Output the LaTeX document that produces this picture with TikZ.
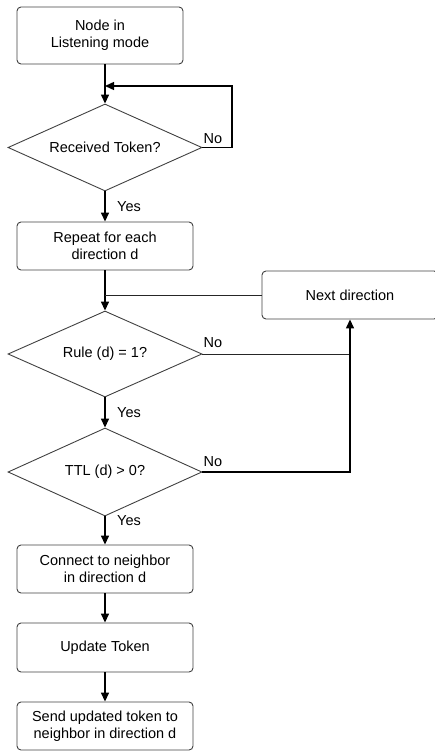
\documentclass[tikz,border=0pt]{standalone}
\usepackage{fontspec}
\setmainfont{Liberation Sans}
\usetikzlibrary{shapes.geometric,arrows.meta}
\begin{document}
\begin{tikzpicture}[x=1pt,y=1pt,
  font=\fontsize{14.5}{17}\selectfont,
  box/.style={draw=black!75, line width=0.9pt, rounded corners=4pt, align=center, inner sep=0pt},
  dec/.style={draw=black!75, line width=0.9pt, shape=diamond, shape aspect=2.2, inner sep=0pt, minimum width=194pt, align=center},
  conn/.style={line width=1.4pt, black},
  thinconn/.style={line width=1pt, black!85},
  arr/.style={conn, -{Triangle[length=9pt,width=8pt]}},
  lbl/.style={inner sep=0pt}]
\useasboundingbox (0,0) rectangle (435,-751);

\node[box, minimum width=166pt, minimum height=57pt] (start) at (100,-35.5) {Node in\\Listening mode};
\node[dec, minimum height=87pt] (d1) at (105,-147.5) {Received Token?};
\node[box, minimum width=176pt, minimum height=48pt] (rep) at (105,-246) {Repeat for each\\direction d};
\node[box, minimum width=176pt, minimum height=48pt] (next) at (350,-295) {Next direction};
\node[dec, minimum height=86pt] (d2) at (105,-354) {Rule (d) = 1?};
\node[dec, minimum height=88pt] (d3) at (105,-472) {TTL (d) > 0?};
\node[box, minimum width=176pt, minimum height=48pt] (con) at (105,-569) {Connect to neighbor\\in direction d};
\node[box, minimum width=176pt, minimum height=49pt] (upd) at (105,-647.5) {Update Token};
\node[box, minimum width=176pt, minimum height=48pt] (send) at (105,-726) {Send updated token to\\neighbor in direction d};

\coordinate (j1) at (105,-86);
\coordinate (l1) at (232,-86);

\draw[arr] (d1.north |- start.south) -- (d1.north);
\draw[arr] (d1.east) -| (l1) -- (j1);
\draw[arr] (d1.south) -- (rep.north);
\draw[arr] (rep.south) -- (d2.north);
\draw[thinconn] (next.west) -- (next.west -| rep.south);
\draw[arr] (d2.south) -- (d3.north);
\draw[thinconn] (d2.east) -- (d2.east -| next.south);
\draw[arr] (d3.east) -| (next.south);
\draw[arr] (d3.south) -- (con.north);
\draw[arr] (con.south) -- (upd.north);
\draw[arr] (upd.south) -- (send.north);

\node[lbl] (no1) at (213,-139) {No};
\node[lbl] (no2) at (213,-343) {No};
\node[lbl] (no3) at (213,-462) {No};
\node[lbl] (yes1) at (129,-207) {Yes};
\node[lbl] (yes2) at (129,-413) {Yes};
\node[lbl] (yes3) at (129,-521) {Yes};
\end{tikzpicture}
\end{document}
